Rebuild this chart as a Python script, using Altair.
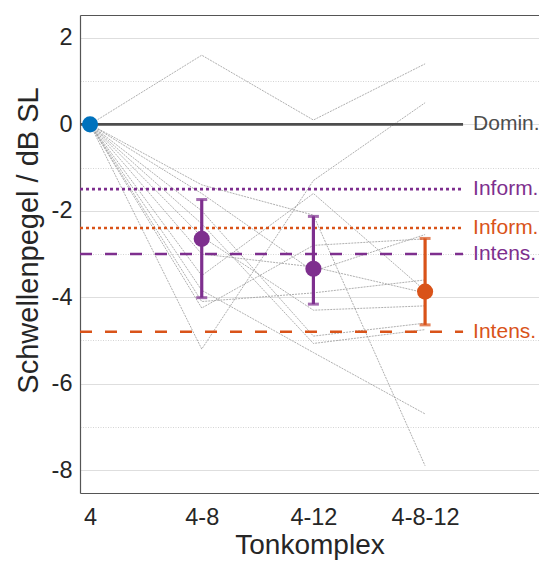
import altair as alt
import pandas as pd

# ---------------- data ----------------
categories = ["4", "4-8", "4-12", "4-8-12"]

# individual listeners (value at "4" is the reference 0 dB)
subjects = [f"P{i}" for i in range(1, 13)]
sub_4 = [0.0] * 12
sub_48 = [1.6, -5.2, -3.84, -1.4, -1.6, -2.0, -4.25, -2.3, -3.5, -4.1, -2.6, -3.0]
sub_412 = [0.1, -1.3, -5.28, -2.1, -3.4, -4.9, -2.8, -5.07, -1.6, -3.9, -4.3, -3.3]
sub_4812 = [1.4, 0.5, -6.7, -7.9, -2.55, -4.6, -2.65, -4.75, -3.85, -3.6, -4.2, -3.9]

# means with error bars
mean_cat = ["4-8", "4-12", "4-8-12"]
mean_val = [-2.65, -3.34, -3.87]
err_hi = [-1.74, -2.13, -2.64]
err_lo = [-4.01, -4.16, -4.64]
mean_grp = ["zwei", "zwei", "drei"]

# reference point
base_cat = ["4"]
base_val = [0.0]

# model predictions
ref_val = [0.0, -1.5, -2.4, -3.0, -4.8]
ref_label = ["Domin.", "Inform.", "Inform.", "Intens.", "Intens."]
ref_grp = ["dom", "zwei", "drei", "zwei", "drei"]
ref_kind = ["solid", "dotted", "dotted", "dashed", "dashed"]

major_ticks = [-8, -6, -4, -2, 0, 2]
minor_ticks = [-7, -5, -3, -1, 1]

# ---------------- tables ----------------
pos = {c: i for i, c in enumerate(categories)}
rows = []
for s, a, b, c, d in zip(subjects, sub_4, sub_48, sub_412, sub_4812):
    for cat, v in zip(categories, [a, b, c, d]):
        rows.append({"subj": s, "x": pos[cat], "v": v})
lines_df = pd.DataFrame(rows)

means_df = pd.DataFrame({
    "x": [pos[c] for c in mean_cat], "v": mean_val,
    "hi": err_hi, "lo": err_lo, "grp": mean_grp,
})
base_df = pd.DataFrame({"x": [pos[c] for c in base_cat], "v": base_val})
ref_df = pd.DataFrame({"v": ref_val, "lab": ref_label, "grp": ref_grp, "kind": ref_kind})

PURPLE = "#7E2F8E"
ORANGE = "#D95319"
BLUE = "#0072BD"
DOM = "#4d4d4d"
FONT = "Liberation Sans"

XMIN, XMAX = -0.09, 4.02
xscale = alt.Scale(domain=[XMIN, XMAX], nice=False, zero=False)
yscale = alt.Scale(domain=[-8.53, 2.53], nice=False, zero=False)
col_scale = alt.Scale(domain=["dom", "zwei", "drei"], range=[DOM, PURPLE, ORANGE])
dash_scale = alt.Scale(domain=["solid", "dotted", "dashed"], range=[[1, 0], [3, 3], [12, 13]])

label_expr = "[" + ",".join(f"'{c}'" for c in categories) + "][datum.value]"

# individual lines carry the main axes
lines = alt.Chart(lines_df).mark_line(
    color="#9a9a9a", strokeWidth=0.8, strokeDash=[2, 1]
).encode(
    x=alt.X("x:Q", scale=xscale, title="Tonkomplex",
            axis=alt.Axis(orient="bottom", values=list(range(len(categories))),
                          labelExpr=label_expr, grid=False, ticks=False,
                          labelPadding=12, titleBaseline="alphabetic", titleY=60,
                          domainColor="#555", domainWidth=1.2)),
    y=alt.Y("v:Q", scale=yscale, title="Schwellenpegel / dB SL",
            axis=alt.Axis(orient="left", values=major_ticks, grid=True,
                          labelExpr="'' + datum.value",
                          gridColor="#dedede", gridWidth=1, ticks=False,
                          labelPadding=8, titlePadding=8, titleY=225,
                          titleFontSize=29,
                          domainColor="#555", domainWidth=1.2)),
    detail="subj:N",
)

# reference rules carry the top axis and the minor grid
refs = alt.Chart(ref_df).mark_rule(strokeWidth=2.6, strokeCap="butt").encode(
    x=alt.datum(XMIN, scale=xscale,
                axis=alt.Axis(orient="top", labels=False, ticks=False, grid=False,
                              title=None, domainColor="#555", domainWidth=1.2)),
    x2=alt.datum(3.34),
    y=alt.Y("v:Q", scale=yscale,
            axis=alt.Axis(orient="left", values=minor_ticks, grid=True, labels=False,
                          ticks=False, domain=False, title=None,
                          gridColor="#d4d4d4", gridDash=[1, 1.5], gridWidth=1)),
    color=alt.Color("grp:N", scale=col_scale, legend=None),
    strokeDash=alt.StrokeDash("kind:N", scale=dash_scale, legend=None),
)

ref_text = alt.Chart(ref_df).mark_text(
    align="left", baseline="middle", fontSize=21, font=FONT
).encode(
    x=alt.datum(3.43, scale=xscale, axis=None),
    y=alt.Y("v:Q", scale=yscale, axis=None),
    color=alt.Color("grp:N", scale=col_scale, legend=None),
    text="lab:N",
)

err = alt.Chart(means_df).mark_rule(strokeWidth=3.2).encode(
    x=alt.X("x:Q", scale=xscale, axis=None),
    y=alt.Y("lo:Q", scale=yscale, axis=None),
    y2="hi:Q",
    color=alt.Color("grp:N", scale=col_scale, legend=None),
)
cap_lo = alt.Chart(means_df).mark_tick(orient="horizontal", size=11, thickness=3).encode(
    x=alt.X("x:Q", scale=xscale, axis=None),
    y=alt.Y("lo:Q", scale=yscale, axis=None),
    color=alt.Color("grp:N", scale=col_scale, legend=None),
)
cap_hi = alt.Chart(means_df).mark_tick(orient="horizontal", size=11, thickness=3).encode(
    x=alt.X("x:Q", scale=xscale, axis=None),
    y=alt.Y("hi:Q", scale=yscale, axis=None),
    color=alt.Color("grp:N", scale=col_scale, legend=None),
)
dots = alt.Chart(means_df).mark_circle(size=260, opacity=1).encode(
    x=alt.X("x:Q", scale=xscale, axis=None),
    y=alt.Y("v:Q", scale=yscale, axis=None),
    color=alt.Color("grp:N", scale=col_scale, legend=None),
)
base = alt.Chart(base_df).mark_circle(size=260, opacity=1, color=BLUE).encode(
    x=alt.X("x:Q", scale=xscale, axis=None),
    y=alt.Y("v:Q", scale=yscale, axis=None),
)

chart = alt.layer(lines, refs, ref_text, err, cap_lo, cap_hi, dots, base).resolve_axis(
    x="independent", y="independent"
).properties(
    width=459, height=478,
    autosize=alt.AutoSizeParams(type="none"),
    padding={"left": 72, "top": 7, "right": 0, "bottom": 68},
).configure_view(stroke=None).configure_axis(
    labelFont=FONT, titleFont=FONT, labelFontSize=23.5, titleFontSize=28,
    labelColor="#262626", titleColor="#262626", titleFontWeight="normal",
)

chart.save("out.html", embed_options={"renderer": "svg", "actions": False})
